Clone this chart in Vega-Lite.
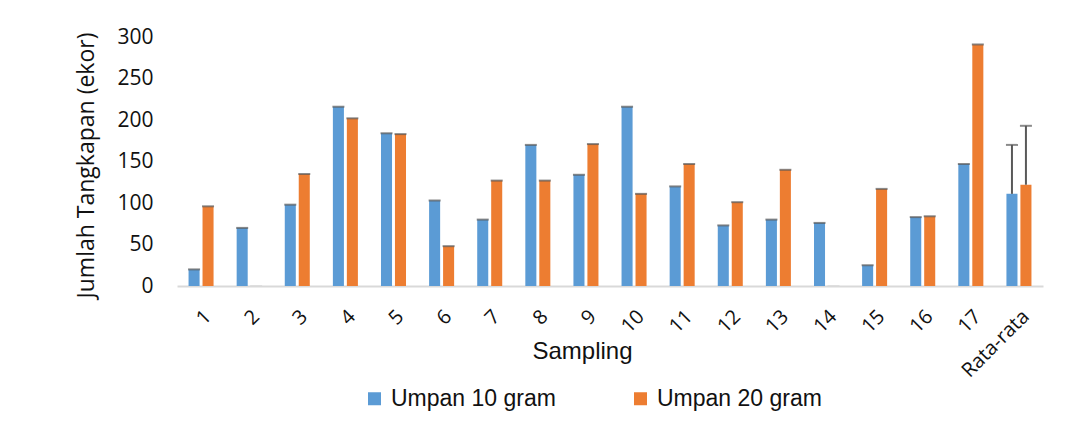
{
  "$schema": "https://vega.github.io/schema/vega-lite/v6.json",
  "width": 866,
  "height": 249,
  "autosize": "none",
  "padding": {"left": 177, "top": 37, "right": 26, "bottom": 139},
  "background": "white",
  "config": {"view": {"stroke": null}},
  "data": {
    "values": [
      {"s": "1", "g": "Umpan 10 gram", "v": 20, "hi": 20},
      {"s": "1", "g": "Umpan 20 gram", "v": 96, "hi": 96},
      {"s": "2", "g": "Umpan 10 gram", "v": 70, "hi": 70},
      {"s": "2", "g": "Umpan 20 gram", "v": 0, "hi": 0},
      {"s": "3", "g": "Umpan 10 gram", "v": 98, "hi": 98},
      {"s": "3", "g": "Umpan 20 gram", "v": 135, "hi": 135},
      {"s": "4", "g": "Umpan 10 gram", "v": 216, "hi": 216},
      {"s": "4", "g": "Umpan 20 gram", "v": 202, "hi": 202},
      {"s": "5", "g": "Umpan 10 gram", "v": 184, "hi": 184},
      {"s": "5", "g": "Umpan 20 gram", "v": 183, "hi": 183},
      {"s": "6", "g": "Umpan 10 gram", "v": 103, "hi": 103},
      {"s": "6", "g": "Umpan 20 gram", "v": 48, "hi": 48},
      {"s": "7", "g": "Umpan 10 gram", "v": 80, "hi": 80},
      {"s": "7", "g": "Umpan 20 gram", "v": 127, "hi": 127},
      {"s": "8", "g": "Umpan 10 gram", "v": 170, "hi": 170},
      {"s": "8", "g": "Umpan 20 gram", "v": 127, "hi": 127},
      {"s": "9", "g": "Umpan 10 gram", "v": 134, "hi": 134},
      {"s": "9", "g": "Umpan 20 gram", "v": 171, "hi": 171},
      {"s": "10", "g": "Umpan 10 gram", "v": 216, "hi": 216},
      {"s": "10", "g": "Umpan 20 gram", "v": 111, "hi": 111},
      {"s": "11", "g": "Umpan 10 gram", "v": 120, "hi": 120},
      {"s": "11", "g": "Umpan 20 gram", "v": 147, "hi": 147},
      {"s": "12", "g": "Umpan 10 gram", "v": 73, "hi": 73},
      {"s": "12", "g": "Umpan 20 gram", "v": 101, "hi": 101},
      {"s": "13", "g": "Umpan 10 gram", "v": 80, "hi": 80},
      {"s": "13", "g": "Umpan 20 gram", "v": 140, "hi": 140},
      {"s": "14", "g": "Umpan 10 gram", "v": 76, "hi": 76},
      {"s": "14", "g": "Umpan 20 gram", "v": 0, "hi": 0},
      {"s": "15", "g": "Umpan 10 gram", "v": 25, "hi": 25},
      {"s": "15", "g": "Umpan 20 gram", "v": 117, "hi": 117},
      {"s": "16", "g": "Umpan 10 gram", "v": 83, "hi": 83},
      {"s": "16", "g": "Umpan 20 gram", "v": 84, "hi": 84},
      {"s": "17", "g": "Umpan 10 gram", "v": 147, "hi": 147},
      {"s": "17", "g": "Umpan 20 gram", "v": 291, "hi": 291},
      {"s": "Rata-rata", "g": "Umpan 10 gram", "v": 111, "hi": 170},
      {"s": "Rata-rata", "g": "Umpan 20 gram", "v": 122, "hi": 193}
    ]
  },
  "encoding": {
    "x": {
      "field": "s",
      "type": "nominal",
      "sort": null,
      "scale": {"paddingInner": 0.48, "paddingOuter": 0.24},
      "axis": {
        "title": "Sampling",
        "titleFont": "Liberation Sans",
        "titleFontSize": 24,
        "titleFontWeight": "normal",
        "titleColor": "#111",
        "titleX": 405,
        "titleY": 53,
        "labelAngle": -45,
        "labelFont": "Open Sans",
        "labelFontSize": 20,
        "labelColor": "#111",
        "labelPadding": 20,
        "ticks": false,
        "domainColor": "#d9d9d9",
        "domainWidth": 2
      }
    },
    "xOffset": {
      "field": "g",
      "type": "nominal",
      "scale": {"paddingInner": 0.21, "paddingOuter": 0}
    }
  },
  "layer": [
    {
      "mark": {"type": "bar"},
      "encoding": {
        "y": {
          "field": "v",
          "type": "quantitative",
          "scale": {"domain": [0, 300], "nice": false},
          "axis": {
            "title": "Jumlah  Tangkapan (ekor)",
            "titleFont": "Open Sans",
            "titleFontSize": 23,
            "titleFontWeight": "normal",
            "titleColor": "#111",
            "titleX": -79,
            "titleY": 128,
            "values": [0, 50, 100, 150, 200, 250, 300],
            "labelFont": "Open Sans",
            "labelFontSize": 21,
            "labelColor": "#111",
            "labelPadding": 24,
            "ticks": false,
            "domain": false,
            "grid": false
          }
        },
        "color": {
          "field": "g",
          "type": "nominal",
          "scale": {"range": ["#5b9bd5", "#ed7d31"]},
          "legend": {
            "title": null,
            "orient": "none",
            "direction": "horizontal",
            "legendX": 186,
            "legendY": 350,
            "symbolType": "square",
            "symbolSize": 169,
            "symbolStrokeWidth": 0,
            "labelFont": "Liberation Sans",
            "labelFontSize": 23,
            "labelLimit": 400,
            "labelColor": "#111",
            "labelOffset": 5,
            "columnPadding": 73
          }
        }
      }
    },
    {
      "mark": {"type": "rule", "color": "#595959", "strokeWidth": 2},
      "encoding": {
        "y": {"field": "v", "type": "quantitative"},
        "y2": {"field": "hi"}
      }
    },
    {
      "mark": {"type": "tick", "thickness": 2, "size": 12},
      "encoding": {
        "y": {"field": "hi", "type": "quantitative"},
        "color": {
          "condition": {"test": "datum.v == 0", "value": "#d9d9d9"},
          "value": "#595959"
        }
      }
    }
  ]
}
